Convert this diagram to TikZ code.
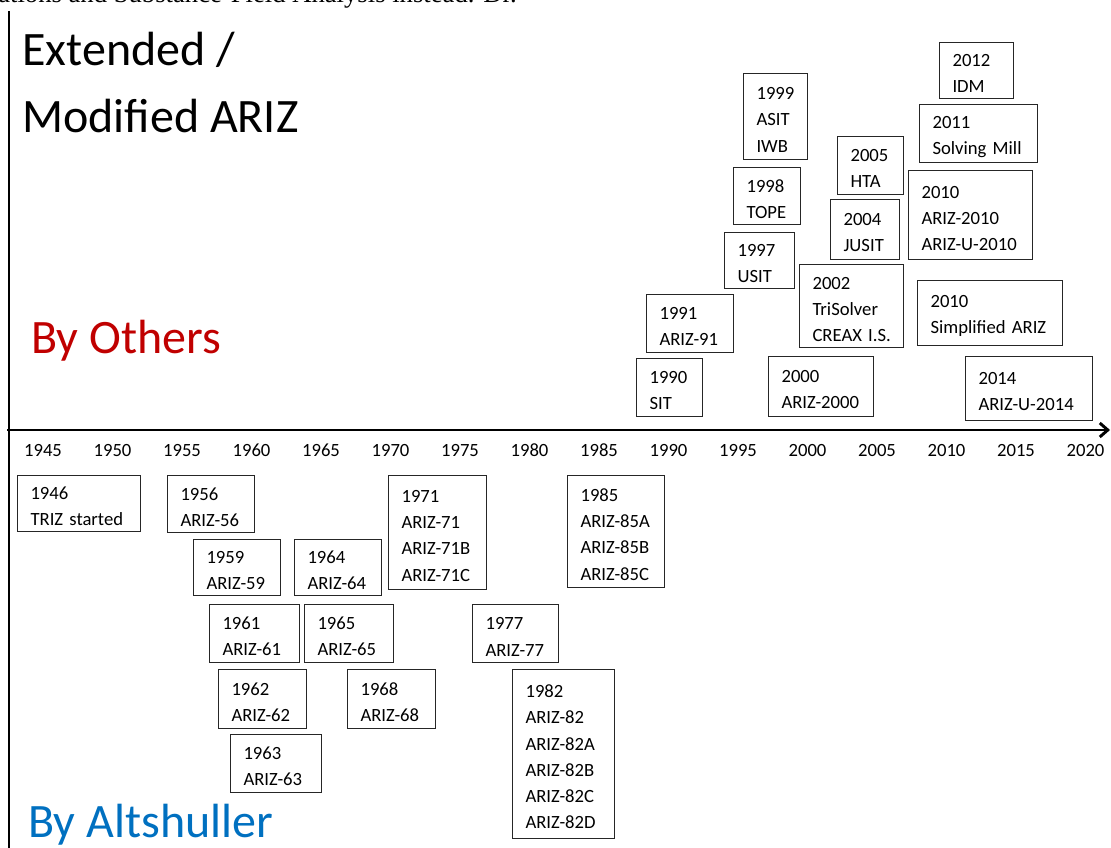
\documentclass[tikz,border=0pt]{standalone}
\usepackage{fontspec}
\setmainfont{Carlito}
\newfontfamily\serifdoc{Liberation Serif}
\usetikzlibrary{arrows.meta}
\newlength\px
\setlength\px{0.75pt}
\definecolor{othersred}{HTML}{C00000}
\definecolor{altblue}{HTML}{0070C0}
\tikzset{
  yrbox/.style={draw=black!85, line width=0.8pt, anchor=north west, align=left,
    inner xsep=13\px, inner ysep=0pt, font=\fontsize{14}{19.7}\selectfont,
    execute at begin node={\rule{0pt}{14pt}}},
  yrlabel/.style={anchor=base, inner sep=0pt, font=\fontsize{14}{16}\selectfont},
  bigtitle/.style={anchor=base west, inner sep=0pt, font=\fontsize{36}{40}\selectfont},
}
\begin{document}
\begin{tikzpicture}[x=0.75pt, y=-0.75pt]
\useasboundingbox (0,0) rectangle (1111,848);

% cut off line of the page above
\begin{scope}
\clip (0,0) rectangle (1111,848);
\node[anchor=base west, inner sep=0pt, font=\serifdoc\fontsize{20}{22}\selectfont] (doctext) at (-2,3) {ations and Substance-Field Analysis instead. Dr.};
\end{scope}

% axes
\coordinate (ytop) at (9,11);
\coordinate (ybot) at (9,848);
\coordinate (org) at (7,430);
\coordinate (xend) at (1110,430);
\draw[line width=1.6pt] (ytop) -- (ybot);
\draw[line width=2.2pt, -{Straight Barb[length=6pt, width=10.5pt]}] (org) -- (xend);

\foreach \yr [count=\i from 0] in {1945,1950,...,2020}
  \node[yrlabel] (y\yr) at (43+69.5*\i,457) {\yr};

% titles
\node[bigtitle] (ext) at (22,66) {Extended /};
\node[bigtitle] (mod) at (22,133) {Modified ARIZ};
\node[bigtitle, text=othersred] (others) at (31,354) {By Others};
\node[bigtitle, text=altblue] (alts) at (28,837) {By Altshuller};

% by Altshuller
\node[yrbox, text width=97\px, minimum height=56\px] (a46) at (17,475) {1946\\TRIZ~started};
\node[yrbox, text width=61\px, minimum height=57\px] (a56) at (167,475) {1956\\ARIZ-56};
\node[yrbox, text width=61\px, minimum height=56\px] (a59) at (193,539) {1959\\ARIZ-59};
\node[yrbox, text width=61\px, minimum height=56\px] (a64) at (294,539) {1964\\ARIZ-64};
\node[yrbox, text width=64\px, minimum height=58\px] (a61) at (209,604) {1961\\ARIZ-61};
\node[yrbox, text width=63\px, minimum height=58\px] (a65) at (304,604) {1965\\ARIZ-65};
\node[yrbox, text width=62\px, minimum height=59\px] (a62) at (218,669) {1962\\ARIZ-62};
\node[yrbox, text width=62\px, minimum height=59\px] (a68) at (347,669) {1968\\ARIZ-68};
\node[yrbox, text width=65\px, minimum height=58\px] (a63) at (230,734) {1963\\ARIZ-63};
\node[yrbox, text width=72\px, minimum height=114\px] (a71) at (388,475) {1971\\ARIZ-71\\ARIZ-71B\\ARIZ-71C};
\node[yrbox, text width=60\px, minimum height=58\px] (a77) at (472,604) {1977\\ARIZ-77};
\node[yrbox, text width=76\px, minimum height=169\px] (a82) at (512,669) {1982\\ARIZ-82\\ARIZ-82A\\ARIZ-82B\\ARIZ-82C\\ARIZ-82D};
\node[yrbox, text width=71\px, minimum height=112\px] (a85) at (567,475) {1985\\ARIZ-85A\\ARIZ-85B\\ARIZ-85C};

% by others
\node[yrbox, text width=38\px, minimum height=86\px] (o99) at (743,73) {1999\\ASIT\\IWB};
\node[yrbox, text width=48\px, minimum height=56\px] (o12) at (939,42) {2012\\IDM};
\node[yrbox, text width=92\px, minimum height=58\px] (o11) at (919,104) {2011\\Solving~Mill};
\node[yrbox, text width=40\px, minimum height=58\px] (o05) at (837,136) {2005\\HTA};
\node[yrbox, text width=41\px, minimum height=57\px] (o98) at (733,167) {1998\\TOPE};
\node[yrbox, text width=98\px, minimum height=89\px] (o10a) at (908,170) {2010\\ARIZ-2010\\ARIZ-U-2010};
\node[yrbox, text width=43\px, minimum height=60\px] (o04) at (830,199) {2004\\JUSIT};
\node[yrbox, text width=44\px, minimum height=56\px] (o97) at (724,232) {1997\\USIT};
\node[yrbox, text width=78\px, minimum height=83\px] (o02) at (799,264) {2002\\TriSolver\\CREAX~I.S.};
\node[yrbox, text width=119\px, minimum height=65\px] (o10b) at (917,280) {2010\\Simplified~ARIZ};
\node[yrbox, text width=61\px, minimum height=58\px] (o91) at (646,294) {1991\\ARIZ-91};
\node[yrbox, text width=40\px, minimum height=58\px] (o90) at (636,358) {1990\\SIT};
\node[yrbox, text width=79\px, minimum height=60\px] (o00) at (768,356) {2000\\ARIZ-2000};
\node[yrbox, text width=101\px, minimum height=64\px] (o14) at (965,356) {2014\\ARIZ-U-2014};

\end{tikzpicture}
\end{document}
